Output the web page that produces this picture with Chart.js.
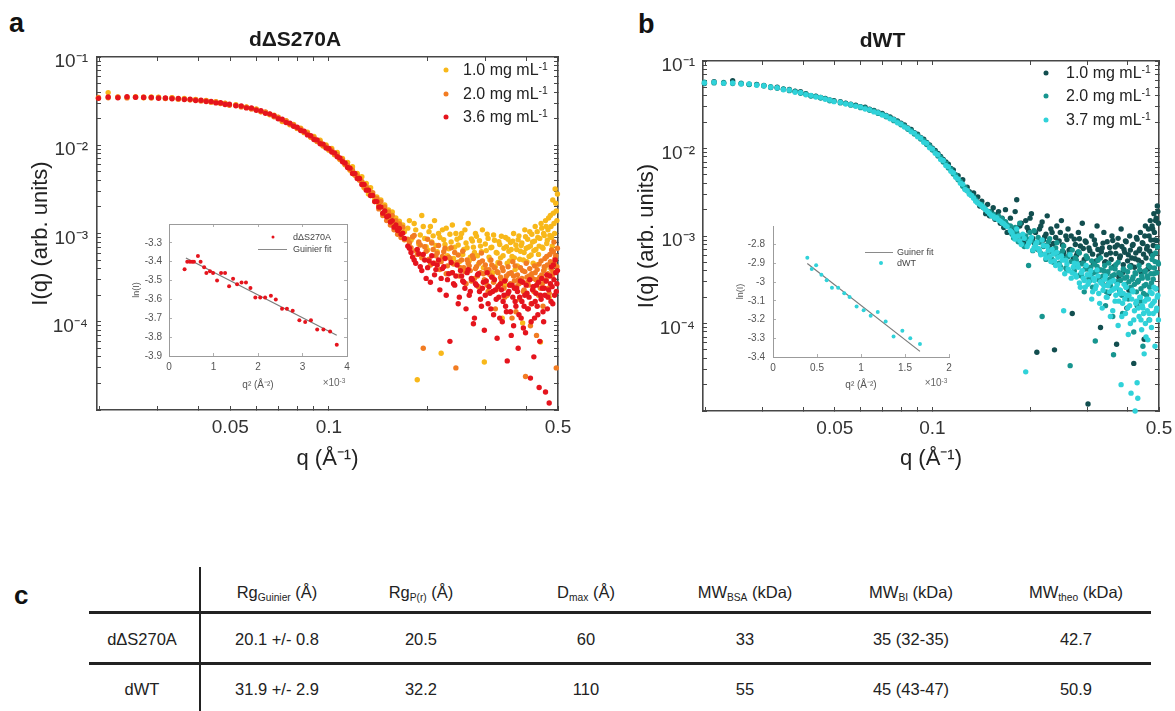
<!DOCTYPE html>
<html>
<head>
<meta charset="utf-8">
<title>SAXS curves</title>
<script src="https://cdn.jsdelivr.net/npm/chart.js@4.4.1/dist/chart.umd.min.js"></script>
<style>
  body { margin: 0; width: 1175px; height: 711px; position: relative; overflow: hidden; background: #fff;
         font-family: "Liberation Sans", Arial, sans-serif; color: #222; }
  canvas { position: absolute; }
  .t { position: absolute; white-space: nowrap; line-height: 1; }
  .c { transform: translate(-50%, -50%); }
  .l { transform: translate(0, -50%); }
  .panel { font-weight: bold; font-size: 27px; color: #111; }
  .leg { font-size: 16px; color: #222; }
  .ileg { font-size: 9px; color: #444; }
  sup { font-size: 65%; position: relative; top: -0.45em; vertical-align: baseline; }
  sub { font-size: 62%; position: relative; top: 0.3em; vertical-align: baseline; }
  .dot { position: absolute; border-radius: 50%; transform: translate(-50%, -50%); }
  .seg { position: absolute; height: 1px; background: #8a8a8a; }
  .tbl { font-size: 16.5px; color: #222; }
  .rule { position: absolute; background: #222; }
</style>
</head>
<body>

<div class="t panel" style="left:9px;top:10px">a</div>
<div class="t panel" style="left:638px;top:11px">b</div>

<canvas id="chartA" width="590" height="480" style="left:0;top:0"></canvas>
<canvas id="chartB" width="585" height="480" style="left:590px;top:0"></canvas>
<canvas id="insetA" width="240" height="185" style="left:120px;top:215px"></canvas>
<canvas id="insetB" width="250" height="185" style="left:720px;top:215px"></canvas>

<!-- legends, panel a -->
<div class="dot" style="left:446px;top:70px;width:5px;height:5px;background:#f8b81a"></div>
<div class="t l leg" style="left:463px;top:70px">1.0 mg mL<sup>-1</sup></div>
<div class="dot" style="left:446px;top:94px;width:5px;height:5px;background:#f27c22"></div>
<div class="t l leg" style="left:463px;top:94px">2.0 mg mL<sup>-1</sup></div>
<div class="dot" style="left:446px;top:117px;width:5px;height:5px;background:#e5141d"></div>
<div class="t l leg" style="left:463px;top:117px">3.6 mg mL<sup>-1</sup></div>

<!-- legends, panel b -->
<div class="dot" style="left:1046px;top:73px;width:5px;height:5px;background:#124e4f"></div>
<div class="t l leg" style="left:1066px;top:73px">1.0 mg mL<sup>-1</sup></div>
<div class="dot" style="left:1046px;top:96px;width:5px;height:5px;background:#17958f"></div>
<div class="t l leg" style="left:1066px;top:96px">2.0 mg mL<sup>-1</sup></div>
<div class="dot" style="left:1046px;top:120px;width:5px;height:5px;background:#30d2d9"></div>
<div class="t l leg" style="left:1066px;top:120px">3.7 mg mL<sup>-1</sup></div>

<!-- inset legends and exponents -->
<div class="dot" style="left:273px;top:237px;width:3px;height:3px;background:#e5141d"></div>
<div class="t l ileg" style="left:293px;top:237px">dΔS270A</div>
<div class="seg" style="left:258px;top:249px;width:29px"></div>
<div class="t l ileg" style="left:293px;top:249px">Guinier fit</div>
<div class="t c ileg" style="left:334px;top:383px;font-size:10px;color:#666">×10<sup>-3</sup></div>

<div class="seg" style="left:865px;top:252px;width:28px"></div>
<div class="t l ileg" style="left:897px;top:252px">Guiner fit</div>
<div class="dot" style="left:881px;top:263px;width:4px;height:4px;background:#30d2d9"></div>
<div class="t l ileg" style="left:897px;top:263px">dWT</div>
<div class="t c ileg" style="left:936px;top:383px;font-size:10px;color:#666">×10<sup>-3</sup></div>

<!-- table c -->
<div class="t panel" style="left:14px;top:582px;font-size:26px">c</div>
<div class="rule" style="left:199px;top:567px;width:2px;height:144px"></div>
<div class="rule" style="left:89px;top:611px;width:1062px;height:3px"></div>
<div class="rule" style="left:89px;top:662px;width:1062px;height:3px"></div>
<div id="table"></div>

<script>
// ---- main curves: scattering vector q (1/Å), shared by every series ----
const qValues = [
  0.0198,0.0212,0.0227,0.0242,0.0257,0.0272,0.0287,0.0302,0.0317,0.0332,0.0347,0.0362,0.0377,0.0392,0.0407,0.0422,0.0437,0.0452,0.0467,0.0482,0.0497,
  0.052,0.054,0.056,0.058,0.060,0.062,0.064,0.066,0.068,0.070,0.072,0.074,0.076,0.078,0.080,0.082,0.084,0.086,0.088,0.090,
  0.092,0.094,0.096,0.098,0.100,0.102,0.104,0.106,0.108,0.110,0.112,0.114,0.116,0.118,0.120,0.122,0.124,0.126,0.128,0.130,
  0.132,0.134,0.136,0.138,0.140,0.142,0.144,0.146,0.148,0.150,0.152,0.154,0.156,0.158,0.160,0.162,0.164,0.166,0.168,0.170,
  0.174,0.178,0.182,0.186,0.190,0.194,0.198,0.202,0.206,0.210,0.214,0.218,0.222,0.226,0.230,0.234,0.238,0.242,0.246,0.250,
  0.254,0.258,0.262,0.266,0.270,0.274,0.278,0.282,0.286,0.290,0.294,0.298,0.302,0.306,0.310,0.314,0.318,0.322,0.326,0.330,
  0.334,0.338,0.342,0.346,0.350,0.354,0.358,0.362,0.366,0.370,0.374,0.378,0.382,0.386,0.390,0.394,0.398,0.402,0.406,0.410,
  0.414,0.418,0.422,0.426,0.430,0.434,0.438,0.442,0.446,0.450,0.454,0.458,0.462,0.466,0.470,0.474,0.478,0.482,0.486,0.490,
  0.494,0.498
];
// in-between q bins of the noisy high-q region
const qExtra = [
  0.176,0.180,0.184,0.188,0.192,0.196,0.200,0.204,0.208,0.212,0.216,0.220,0.224,0.228,0.232,0.236,0.240,0.244,0.248,0.252,
  0.256,0.260,0.264,0.268,0.272,0.276,0.280,0.284,0.288,0.292,0.296,0.300,0.304,0.308,0.312,0.316,0.320,0.324,0.328,0.332,
  0.336,0.340,0.344,0.348,0.352,0.356,0.360,0.364,0.368,0.372,0.376,0.380,0.384,0.388,0.392,0.396,0.400,0.404,0.408,0.412,
  0.416,0.420,0.424,0.428,0.432,0.436,0.440,0.444,0.448,0.452,0.456,0.460,0.464,0.468,0.472,0.476,0.480,0.484,0.488,0.492,
  0.496
];

// panel a: dΔS270A
const a10 = [
  0.0342,0.0395,0.0351,0.0349,0.0356,0.0346,0.0352,0.0350,0.0340,0.0346,0.0335,0.0338,0.0328,0.0331,0.0320,0.0322,0.0310,0.0312,0.0299,0.0300,0.0287,
  0.0288,0.0274,0.0272,0.0260,0.0258,0.0240,0.0236,0.0222,0.0219,0.0206,0.0186,0.0190,0.0171,0.0172,0.0155,0.0156,0.0139,0.0141,0.0123,0.0126,
  0.0110,0.0114,0.0098,0.0101,0.0088,0.0092,0.0078,0.0083,0.0069,0.0071,0.0060,0.0064,0.0052,0.0057,0.0046,0.0048,0.0041,0.0044,0.0033,0.0037,
  0.0028,0.0033,0.0027,0.0024,0.0026,0.0021,0.0024,0.0017,0.0021,0.00165,0.00185,0.00140,0.00175,0.00128,0.00150,0.00112,0.00138,0.00102,0.00125,0.00105,
  1.15e-3,8.4e-4,1.3e-3,2.2e-5,9.6e-4,1.2e-3,7.1e-4,1.05e-3,8.0e-4,1.4e-3,
  6.2e-4,9.0e-4,1.1e-3,7.5e-4,5.6e-4,9.8e-4,1.25e-3,7.0e-4,8.6e-4,4.8e-4,
  1.0e-3,6.6e-4,7.8e-4,1.3e-3,5.4e-4,8.2e-4,6.1e-4,9.3e-4,4.5e-4,7.2e-4,
  1.1e-3,3.5e-5,6.4e-4,8.8e-4,5.0e-4,7.0e-4,9.6e-4,4.2e-4,6.0e-4,8.1e-4,
  5.3e-4,1.1e-4,6.8e-4,9.0e-4,4.6e-4,6.3e-4,7.9e-4,5.5e-4,1.0e-3,3.9e-4,
  6.6e-4,8.5e-4,5.1e-4,7.3e-4,9.7e-5,6.1e-4,9.2e-4,4.8e-4,7.0e-4,1.05e-3,
  5.7e-4,8.0e-4,6.4e-4,1.2e-3,4.4e-4,9.0e-4,7.2e-4,5.9e-5,1.15e-3,6.8e-4,
  9.5e-4,1.4e-3,7.7e-4,1.1e-3,1.9e-4,1.6e-3,9.0e-4,2.4e-3,1.3e-3,3.2e-3,
  1.8e-3,2.8e-3
];
const a10x = [
  1.4e-3,9.0e-4,1.1e-3,7.6e-4,1.6e-3,8.8e-4,6.5e-4,1.2e-3,9.4e-4,7.3e-4,
  1.0e-3,4.4e-5,8.5e-4,1.15e-3,6.7e-4,8.0e-4,5.2e-4,1.0e-3,7.4e-4,9.0e-4,
  5.8e-4,1.1e-3,6.9e-4,4.9e-4,8.7e-4,7.0e-4,1.0e-3,5.6e-4,8.3e-4,6.2e-4,
  4.1e-4,7.6e-4,9.8e-4,5.4e-4,6.9e-4,3.6e-4,8.4e-4,6.1e-4,4.7e-4,7.5e-4,
  9.3e-4,5.6e-4,2.6e-4,7.1e-4,8.6e-4,4.9e-4,6.6e-4,8.2e-4,5.3e-4,7.4e-4,
  4.3e-4,9.4e-4,6.3e-4,7.8e-4,5.0e-4,1.1e-3,6.8e-4,8.6e-4,5.5e-4,7.2e-4,
  9.8e-4,4.6e-4,8.2e-4,6.6e-4,1.05e-3,5.8e-4,8.8e-4,1.3e-3,7.0e-4,1.0e-3,
  4.0e-4,1.2e-3,8.4e-4,1.5e-3,9.5e-4,1.2e-3,7.2e-4,1.7e-3,1.0e-3,2.2e-3,
  1.4e-3
];
const a20 = [
  0.0348,0.0346,0.0353,0.0344,0.0351,0.0352,0.0343,0.0347,0.0338,0.0344,0.0333,0.0335,0.0327,0.0328,0.0318,0.0320,0.0308,0.0309,0.0297,0.0298,0.0284,
  0.0285,0.0272,0.0270,0.0258,0.0255,0.0241,0.0238,0.0225,0.0210,0.0208,0.0191,0.0188,0.0173,0.0170,0.0156,0.0153,0.0140,0.0137,0.0124,0.0122,
  0.0111,0.0109,0.0099,0.0098,0.0089,0.0088,0.0079,0.0078,0.0070,0.0068,0.0061,0.0059,0.0053,0.0052,0.0046,0.0045,0.0040,0.0039,0.0034,0.0034,
  0.0031,0.0027,0.0029,0.0023,0.0025,0.0019,0.0023,0.0016,0.0020,0.00140,0.00175,0.00125,0.00160,0.00110,0.00140,0.00098,0.00128,0.00090,0.00118,0.00085,
  8.6e-4,6.9e-4,9.5e-4,5.8e-4,7.4e-4,5.0e-5,6.3e-4,5.1e-4,7.8e-4,4.6e-4,
  6.0e-4,3.9e-4,5.5e-4,6.8e-4,4.3e-4,5.2e-4,3.6e-4,6.1e-4,4.7e-4,3.3e-4,
  5.0e-4,4.1e-4,2.7e-4,4.6e-4,3.8e-4,5.6e-4,3.1e-4,4.2e-4,2.5e-4,3.6e-4,
  4.9e-4,3.0e-4,3.9e-4,2.2e-4,3.4e-4,4.4e-4,2.8e-4,1.4e-4,3.7e-4,2.6e-4,
  3.2e-4,4.1e-4,2.4e-4,3.0e-4,2.0e-4,3.5e-4,2.7e-4,1.1e-4,3.3e-4,4.3e-4,
  2.5e-4,3.0e-4,1.8e-4,2.9e-4,3.8e-4,2.3e-4,2.4e-5,3.2e-4,2.6e-4,4.0e-4,
  1.6e-4,3.1e-4,2.2e-4,3.6e-4,7.0e-5,2.8e-4,4.5e-4,2.4e-4,3.4e-4,1.5e-4,
  4.2e-4,2.9e-4,5.5e-4,3.5e-4,2.1e-4,4.8e-4,6.5e-4,3.7e-4,8.0e-4,5.2e-4,
  3.0e-5,6.8e-4
];
const a20x = [
  7.8e-4,9.2e-4,6.4e-4,8.0e-4,5.3e-4,7.1e-4,8.6e-4,4.4e-4,6.6e-4,5.6e-4,
  7.3e-4,4.8e-4,6.2e-4,3.5e-4,5.4e-4,6.9e-4,4.5e-4,3.0e-5,5.7e-4,4.1e-4,
  6.3e-4,3.7e-4,5.0e-4,4.3e-4,2.9e-4,5.2e-4,4.0e-4,3.3e-4,4.7e-4,6.0e-4,
  3.5e-4,4.4e-4,2.6e-4,3.9e-4,5.0e-4,3.2e-4,4.1e-4,2.3e-4,3.6e-4,4.6e-4,
  3.0e-4,3.8e-4,1.9e-4,3.3e-4,4.2e-4,2.6e-4,3.6e-4,4.8e-4,2.9e-4,1.3e-4,
  3.4e-4,2.7e-4,4.1e-4,3.1e-4,2.2e-4,3.7e-4,4.6e-4,2.8e-4,3.3e-4,9.0e-5,
  3.5e-4,2.5e-4,4.3e-4,3.0e-4,3.9e-4,2.0e-4,3.2e-4,4.9e-4,2.7e-4,3.8e-4,
  5.2e-4,3.0e-4,4.4e-4,2.4e-4,5.8e-4,4.0e-4,3.3e-4,6.2e-4,4.5e-4,5.6e-4,
  4.2e-4
];
const a36 = [
  0.0340,0.0352,0.0346,0.0355,0.0350,0.0348,0.0349,0.0341,0.0343,0.0337,0.0338,0.0330,0.0332,0.0322,0.0324,0.0313,0.0314,0.0302,0.0303,0.0290,0.0291,
  0.0280,0.0279,0.0265,0.0264,0.0249,0.0246,0.0230,0.0227,0.0216,0.0200,0.0197,0.0181,0.0178,0.0164,0.0160,0.0147,0.0144,0.0131,0.0128,0.0116,
  0.0115,0.0104,0.0103,0.0093,0.0092,0.0084,0.0082,0.0074,0.0072,0.0065,0.0063,0.0056,0.0055,0.0048,0.0048,0.0042,0.0042,0.0036,0.0036,0.0031,
  0.0031,0.0027,0.0027,0.0023,0.0023,0.0020,0.0020,0.0017,0.0018,0.00155,0.00158,0.00135,0.00140,0.00118,0.00125,0.00108,0.00114,0.00098,0.00101,0.00088,
  7.2e-4,6.1e-4,5.0e-4,6.6e-4,4.2e-4,5.8e-4,3.1e-4,4.9e-4,5.6e-4,3.4e-4,
  4.4e-4,2.3e-4,4.0e-4,5.2e-4,3.0e-4,6.0e-5,3.6e-4,2.6e-4,4.4e-4,1.9e-4,
  3.3e-4,2.8e-4,1.4e-4,3.9e-4,2.2e-4,3.0e-4,1.1e-4,2.6e-4,3.5e-4,1.8e-4,
  2.4e-4,8.0e-5,2.9e-4,1.6e-4,2.1e-4,3.2e-4,1.2e-4,2.3e-4,6.5e-5,1.9e-4,
  2.7e-4,1.0e-4,2.0e-4,1.5e-4,3.6e-5,2.2e-4,1.3e-4,2.6e-4,9.0e-5,1.7e-4,
  2.4e-4,5.0e-5,1.9e-4,1.1e-4,2.8e-4,1.5e-4,7.5e-5,2.1e-4,1.4e-4,3.0e-4,
  1.0e-4,2.3e-4,4.0e-5,1.7e-4,2.6e-4,1.2e-4,1.8e-5,2.0e-4,3.1e-4,1.3e-4,
  2.4e-4,1.6e-5,3.4e-4,1.9e-4,1.2e-5,2.7e-4,4.2e-4,1.6e-4,3.0e-4,5.0e-4,
  2.2e-4,3.8e-4
];
const a36x = [
  6.8e-4,5.4e-4,4.6e-4,5.9e-4,3.8e-4,5.0e-4,4.1e-4,2.8e-4,4.6e-4,3.9e-4,
  5.0e-4,3.1e-4,4.2e-4,2.0e-4,3.5e-4,4.7e-4,2.7e-4,3.3e-4,1.6e-4,3.8e-4,
  2.9e-4,2.4e-4,3.6e-4,2.0e-4,3.1e-4,9.5e-5,2.7e-4,3.4e-4,2.2e-4,1.5e-4,
  2.8e-4,2.0e-4,3.6e-4,2.5e-4,1.4e-4,2.2e-4,3.0e-4,1.8e-4,2.5e-4,1.1e-4,
  2.3e-4,1.7e-4,2.9e-4,1.3e-4,2.1e-4,2.6e-4,7.0e-5,1.9e-4,2.4e-4,1.5e-4,
  2.2e-4,1.2e-4,2.9e-4,1.7e-4,8.5e-5,2.0e-4,2.6e-4,1.4e-4,1.9e-4,2.3e-5,
  1.6e-4,2.5e-4,1.1e-4,2.1e-4,1.5e-4,2.8e-4,6.0e-5,1.8e-4,2.4e-4,1.0e-4,
  2.0e-4,2.9e-4,1.4e-4,2.3e-4,3.3e-4,1.7e-4,2.5e-4,4.4e-4,2.0e-4,3.6e-4,
  2.7e-4
];

// panel b: dWT
const b10 = [
  0.0552,0.0580,0.0558,0.0596,0.0551,0.0542,0.0540,0.0526,0.0498,0.0501,0.0475,0.0472,0.0452,0.0445,0.0423,0.0402,0.0396,0.0382,0.0374,0.0358,0.0352,
  0.0342,0.0330,0.0320,0.0312,0.0300,0.0296,0.0281,0.0272,0.0260,0.0252,0.0238,0.0230,0.0216,0.0207,0.0194,0.0186,0.0172,0.0165,0.0152,0.0146,
  0.0134,0.0128,0.0117,0.0110,0.0101,0.0095,0.0088,0.0081,0.0075,0.0070,0.0066,0.0059,0.0057,0.0050,0.0049,0.0043,0.0044,0.0035,0.0036,0.0032,
  0.0030,0.0031,0.0026,0.0028,0.0022,0.0025,0.0021,0.0018,0.0023,0.0017,0.0019,0.0021,0.00155,0.00175,0.00190,0.00140,0.00160,0.00125,0.00200,0.00110,
  1.6e-3,1.1e-3,2.6e-3,1.3e-3,9.0e-4,1.5e-3,1.15e-3,1.8e-3,8.4e-4,4.7e-5,
  1.2e-3,1.45e-3,9.8e-4,1.7e-3,7.6e-4,1.1e-3,5.0e-5,1.3e-3,8.8e-4,1.5e-3,
  6.5e-4,1.0e-3,1.2e-3,7.0e-4,1.3e-4,9.2e-4,6.0e-4,1.1e-3,7.7e-4,1.4e-3,
  5.4e-4,8.5e-4,1.2e-5,6.8e-4,1.0e-3,4.8e-4,8.0e-4,1.3e-3,5.9e-4,9.0e-5,
  7.3e-4,1.1e-3,5.1e-4,8.6e-4,2.2e-4,6.4e-4,1.0e-3,4.4e-4,7.5e-4,5.8e-5,
  9.4e-4,5.6e-4,1.2e-3,3.8e-4,7.0e-4,8.8e-4,1.5e-4,6.1e-4,1.0e-3,4.6e-4,
  7.8e-4,3.5e-5,5.5e-4,9.6e-4,3.0e-4,6.8e-4,1.1e-3,5.0e-4,8.2e-4,6.6e-5,
  1.3e-3,7.1e-4,4.2e-4,1.0e-3,1.5e-3,6.2e-4,1.2e-3,1.8e-3,9.0e-4,1.6e-3,
  2.2e-3,1.4e-3
];
const b10x = [
  1.2e-3,1.9e-3,1.0e-3,1.4e-3,8.2e-4,1.25e-3,1.6e-3,9.4e-4,1.1e-3,7.0e-4,
  1.3e-3,9.0e-4,1.05e-3,6.8e-4,1.2e-3,8.2e-4,9.6e-4,6.1e-4,1.1e-3,7.9e-4,
  5.8e-4,9.1e-4,6.9e-4,1.0e-3,5.5e-4,8.0e-4,6.4e-4,9.3e-4,4.9e-4,7.2e-4,
  8.8e-4,5.6e-4,7.3e-4,3.5e-4,6.2e-4,9.0e-4,5.2e-4,7.0e-4,4.1e-4,6.6e-4,
  8.3e-4,5.0e-4,6.1e-4,2.8e-4,7.4e-4,5.4e-4,8.9e-4,4.5e-4,6.3e-4,7.9e-4,
  3.4e-4,5.9e-4,7.6e-4,4.7e-4,6.5e-4,8.6e-4,5.2e-4,2.4e-4,6.9e-4,5.6e-4,
  8.0e-4,4.4e-4,6.4e-4,9.2e-4,5.3e-4,7.1e-4,3.9e-4,8.4e-4,6.2e-4,1.0e-3,
  5.6e-4,7.6e-4,1.2e-3,6.7e-4,9.0e-4,1.3e-3,7.8e-4,1.1e-3,1.5e-3,8.9e-4,
  1.9e-3
];
const b20 = [
  0.0574,0.0562,0.0568,0.0553,0.0556,0.0539,0.0535,0.0517,0.0509,0.0487,0.0480,0.0458,0.0450,0.0428,0.0420,0.0398,0.0394,0.0378,0.0372,0.0352,0.0348,
  0.0332,0.0328,0.0313,0.0309,0.0293,0.0290,0.0273,0.0268,0.0252,0.0247,0.0230,0.0225,0.0208,0.0203,0.0187,0.0181,0.0166,0.0160,0.0146,0.0142,
  0.0128,0.0124,0.0111,0.0108,0.0096,0.0092,0.0082,0.0079,0.0070,0.0068,0.0060,0.0058,0.0051,0.0050,0.0044,0.0042,0.0037,0.0036,0.0033,0.0031,
  0.0029,0.0028,0.0026,0.0024,0.0023,0.0023,0.0021,0.0020,0.0019,0.0019,0.00170,0.00178,0.00165,0.00160,0.00168,0.00150,0.00158,0.00140,0.00146,0.00135,
  1.3e-3,9.5e-4,1.1e-3,1.4e-3,8.0e-4,1.0e-3,4.6e-4,8.8e-4,1.15e-3,7.2e-4,
  8.5e-4,1.2e-4,7.8e-4,6.0e-4,9.3e-4,5.4e-4,7.1e-4,8.4e-4,4.9e-4,6.4e-4,
  7.7e-4,4.3e-4,5.8e-4,3.3e-5,6.9e-4,4.0e-4,5.3e-4,6.6e-4,3.6e-4,4.8e-4,
  2.3e-4,5.9e-4,4.2e-4,3.1e-4,5.2e-4,3.8e-4,6.3e-5,4.5e-4,3.4e-4,5.6e-4,
  2.9e-4,4.0e-4,1.6e-4,3.7e-4,4.9e-4,2.7e-4,3.5e-4,4.4e-5,4.2e-4,3.0e-4,
  5.0e-4,2.4e-4,3.6e-4,1.3e-4,4.1e-4,2.8e-4,3.4e-4,1.9e-4,4.5e-4,2.6e-4,
  3.2e-4,8.0e-5,3.8e-4,2.3e-4,3.0e-4,4.6e-4,1.8e-4,3.5e-4,5.5e-5,2.7e-4,
  4.0e-4,2.1e-4,3.3e-4,1.1e-4,4.4e-4,2.9e-4,6.0e-4,3.7e-4,5.1e-4,2.5e-4,
  7.5e-4,4.8e-4
];
const b20x = [
  1.05e-3,1.25e-3,8.6e-4,1.0e-3,7.6e-4,9.2e-4,1.1e-3,6.8e-4,8.2e-4,9.6e-4,
  6.3e-4,7.6e-4,5.4e-4,8.6e-4,6.7e-4,5.0e-4,7.3e-4,6.0e-4,4.5e-4,6.8e-4,
  5.5e-4,4.1e-4,6.2e-4,5.1e-4,3.8e-4,5.6e-4,4.6e-4,6.4e-4,3.5e-4,4.9e-4,
  4.2e-4,5.6e-4,3.3e-4,4.4e-4,2.6e-4,4.8e-4,3.9e-4,5.3e-4,3.1e-4,4.1e-4,
  3.5e-4,4.6e-4,2.3e-4,3.9e-4,3.2e-4,4.3e-4,1.2e-4,3.6e-4,4.7e-4,2.9e-4,
  3.8e-4,3.1e-4,2.1e-4,4.2e-4,3.3e-4,2.6e-4,3.9e-4,3.0e-4,4.4e-4,2.4e-4,
  3.4e-4,2.8e-4,3.7e-4,1.6e-4,3.1e-4,4.1e-4,2.5e-4,3.3e-4,2.2e-4,3.9e-4,
  2.8e-4,3.5e-4,4.6e-4,2.6e-4,3.7e-4,5.4e-4,3.2e-4,4.3e-4,6.4e-4,3.8e-4,
  5.0e-4
];
const b37 = [
  0.0560,0.0572,0.0555,0.0561,0.0546,0.0548,0.0529,0.0523,0.0502,0.0494,0.0470,0.0466,0.0440,0.0436,0.0412,0.0405,0.0388,0.0384,0.0366,0.0359,0.0343,
  0.0338,0.0322,0.0318,0.0303,0.0299,0.0283,0.0278,0.0262,0.0257,0.0241,0.0235,0.0219,0.0213,0.0197,0.0191,0.0176,0.0170,0.0155,0.0150,0.0136,
  0.0132,0.0118,0.0115,0.0102,0.0099,0.0088,0.0085,0.0075,0.0073,0.0064,0.0062,0.0055,0.0053,0.0047,0.0045,0.0040,0.0039,0.0034,0.0033,0.0030,
  0.0029,0.0027,0.0025,0.0024,0.0023,0.0022,0.0021,0.0020,0.0019,0.0018,0.00172,0.00168,0.00160,0.00162,0.00152,0.00148,0.00142,0.00138,0.00132,0.00128,
  1.15e-3,1.0e-3,1.2e-3,8.8e-4,1.05e-3,2.8e-5,8.2e-4,9.6e-4,7.4e-4,8.5e-4,
  6.8e-4,9.0e-4,6.2e-4,7.6e-4,5.8e-4,7.0e-4,5.2e-4,6.5e-4,4.7e-4,5.9e-4,
  1.4e-4,5.3e-4,4.2e-4,6.1e-4,3.8e-4,4.9e-4,3.4e-4,4.4e-4,2.6e-4,4.0e-4,
  3.1e-4,4.6e-4,2.8e-4,3.6e-4,1.9e-4,3.3e-4,2.5e-4,4.1e-4,2.2e-4,3.0e-4,
  1.5e-4,2.7e-4,3.5e-4,2.0e-4,2.9e-4,1.2e-4,2.4e-4,3.1e-4,1.8e-4,2.6e-4,
  9.5e-5,2.2e-4,2.0e-5,1.7e-4,2.8e-4,1.3e-4,2.1e-4,7.5e-5,1.6e-4,1.6e-5,
  2.4e-4,1.1e-4,1.0e-5,1.8e-4,1.4e-5,1.2e-4,2.0e-4,8.5e-5,1.5e-4,4.5e-5,
  1.0e-4,1.9e-4,6.5e-5,1.3e-4,2.3e-4,9.0e-5,1.7e-4,2.6e-4,5.5e-5,1.4e-4,
  2.0e-4,1.1e-4
];
const b37x = [
  1.1e-3,9.2e-4,1.0e-3,8.0e-4,9.4e-4,7.6e-4,8.8e-4,6.9e-4,8.0e-4,7.2e-4,
  6.1e-4,7.8e-4,5.6e-4,6.8e-4,5.1e-4,6.2e-4,4.6e-4,5.7e-4,4.2e-4,5.3e-4,
  3.7e-4,4.8e-4,4.0e-4,3.3e-4,4.4e-4,3.6e-4,4.8e-4,2.9e-4,3.8e-4,3.3e-4,
  2.6e-4,3.6e-4,3.0e-4,4.0e-4,2.3e-4,3.1e-4,2.7e-4,3.5e-4,1.7e-4,2.9e-4,
  2.4e-4,3.2e-4,2.0e-4,2.7e-4,2.3e-4,3.0e-4,1.4e-4,2.5e-4,2.1e-4,2.8e-4,
  1.8e-4,2.4e-4,1.2e-4,2.2e-4,1.9e-4,2.6e-4,1.5e-4,2.1e-4,1.0e-4,1.9e-4,
  2.3e-4,1.4e-4,1.7e-4,2.1e-5,1.5e-4,2.0e-4,1.1e-4,1.6e-4,1.3e-4,1.8e-4,
  7.0e-5,1.4e-4,1.9e-4,1.1e-4,1.6e-4,2.2e-4,1.3e-4,1.8e-4,2.5e-4,1.5e-4,
  2.1e-4
];

// ---- Guinier insets (q² in units of 1e-3 Å⁻²) ----
const insetAQ2 = [0.35,0.41,0.47,0.52,0.56,0.65,0.71,0.79,0.84,0.92,0.99,1.08,1.17,1.26,1.35,1.44,1.53,1.63,1.73,1.83,
                  1.94,2.05,2.16,2.29,2.40,2.54,2.65,2.78,2.93,3.06,3.19,3.33,3.47,3.62,3.77];
const insetALnI = [-3.44,-3.40,-3.40,-3.40,-3.40,-3.37,-3.40,-3.43,-3.46,-3.45,-3.46,-3.50,-3.46,-3.46,-3.53,-3.49,-3.52,-3.51,-3.51,-3.54,
                   -3.59,-3.59,-3.59,-3.58,-3.60,-3.65,-3.65,-3.66,-3.71,-3.72,-3.71,-3.76,-3.76,-3.77,-3.84];
const fitAQ2 = [0.38, 3.77];
const fitALnI = [-3.38, -3.79];

const insetBQ2 = [0.39,0.44,0.49,0.55,0.61,0.67,0.74,0.81,0.87,0.95,1.03,1.11,1.19,1.28,1.37,1.47,1.56,1.67];
const insetBLnI = [-2.87,-2.93,-2.91,-2.96,-2.99,-3.03,-3.03,-3.06,-3.08,-3.13,-3.15,-3.18,-3.16,-3.21,-3.29,-3.26,-3.30,-3.33];
const fitBQ2 = [0.39, 1.67];
const fitBLnI = [-2.90, -3.37];

// ---- axis ticks ----
const qMin = 0.0196, qMax = 0.5;
const qTicks = [0.02,0.03,0.04,0.05,0.06,0.07,0.08,0.09,0.1,0.2,0.3,0.4,0.5];
const qTickLabels = [[0.05,'0.05'],[0.1,'0.1'],[0.5,'0.5']];
const iMantissas = [1,2,3,4,5,6,7,8,9];
const iDecades = [-5,-4,-3,-2];
const iTickLabels = [[1e-1,'10⁻¹'],[1e-2,'10⁻²'],[1e-3,'10⁻³'],[1e-4,'10⁻⁴']];
const iTicks = iDecades.flatMap(e => iMantissas.map(m => m * Math.pow(10, e))).concat([0.1]);

// ---- table ----
const tableCols = [142, 277, 421, 586, 745, 911, 1076];
const tableHead = ['', 'Rg<sub>Guinier</sub> (Å)', 'Rg<sub>P(r)</sub> (Å)', 'D<sub>max</sub> (Å)',
                   'MW<sub>BSA</sub> (kDa)', 'MW<sub>BI</sub> (kDa)', 'MW<sub>theo</sub> (kDa)'];
const tableRow1 = ['dΔS270A', '20.1 +/- 0.8', '20.5', '60', '33', '35 (32-35)', '42.7'];
const tableRow2 = ['dWT', '31.9 +/- 2.9', '32.2', '110', '55', '45 (43-47)', '50.9'];

Chart.defaults.font.family = '"Liberation Sans", Arial, sans-serif';
const axisColor = '#474747';

const findLabel = (list, v) => {
  const hit = list.find(([t]) => Math.abs(Math.log10(v / t)) < 1e-6);
  return hit ? hit[1] : '';
};

function logAxis(pos, min, max, ticks, labels, size, pad, title, offset) {
  const horiz = pos === 'top' || pos === 'bottom';
  return {
    type: 'logarithmic', position: pos, min: min, max: max, bounds: 'data',
    afterBuildTicks: s => { s.ticks = ticks.map(v => ({ value: v })); },
    afterFit: s => {
      if (horiz) s.height = size; else s.width = size;
      s.paddingLeft = s.paddingRight = s.paddingTop = s.paddingBottom = 0;
    },
    ticks: {
      display: !!labels, autoSkip: false, maxRotation: 0, minRotation: 0, padding: pad,
      labelOffset: offset || 0, color: '#333', font: { size: 19 },
      callback: v => labels ? findLabel(labels, v) : ''
    },
    grid: { drawOnChartArea: false, drawTicks: true, tickLength: -4, color: axisColor, tickWidth: 1 },
    border: { display: true, color: axisColor, width: 1.6 },
    title: title || { display: false }
  };
}

function mainChart(id, o) {
  return new Chart(document.getElementById(id), {
    type: 'scatter',
    data: {
      datasets: o.series.map(s => ({
        label: s.label,
        data: qValues.map((q, i) => ({ x: q, y: s.values[i] }))
          .concat(qExtra.map((q, i) => ({ x: q, y: s.extra[i] }))),
        backgroundColor: s.color, borderWidth: 0, pointRadius: 2.7, order: s.order, clip: 4
      }))
    },
    options: {
      responsive: false, animation: false, events: [], devicePixelRatio: 1,
      layout: { padding: 0 },
      plugins: {
        legend: { display: false }, tooltip: { enabled: false },
        title: { display: true, text: o.title, color: '#1a1a1a', font: { size: 21, weight: 'bold' },
                 padding: { top: o.titlePad, bottom: 0 } }
      },
      scales: {
        x: logAxis('bottom', qMin, qMax, qTicks, qTickLabels, o.bottomH, 10,
          { display: true, text: 'q (Å⁻¹)', color: '#222', font: { size: 22 }, padding: { top: 0, bottom: 8 } }),
        x2: logAxis('top', qMin, qMax, qTicks, null, o.topH, 0),
        y: logAxis('left', 1e-5, 0.1, iTicks, iTickLabels, o.leftW, o.yPad,
          { display: true, text: 'I(q) (arb. units)', color: '#222', font: { size: 22 }, padding: { top: o.yTitlePad, bottom: 0 } }, 5),
        y2: logAxis('right', 1e-5, 0.1, iTicks, null, o.rightW, 0)
      }
    }
  });
}

mainChart('chartA', {
  title: 'dΔS270A', titlePad: 28, topH: 3.8, bottomH: 70, leftW: 97, rightW: 32, yPad: 13, yTitlePad: 28,
  series: [
    { label: '1.0 mg mL-1', values: a10, extra: a10x, color: '#f8b81a', order: 3 },
    { label: '2.0 mg mL-1', values: a20, extra: a20x, color: '#f27c22', order: 2 },
    { label: '3.6 mg mL-1', values: a36, extra: a36x, color: '#e5141d', order: 1 }
  ]
});
mainChart('chartB', {
  title: 'dWT', titlePad: 29, topH: 6.8, bottomH: 69, leftW: 113, rightW: 16, yPad: 12, yTitlePad: 44,
  series: [
    { label: '1.0 mg mL-1', values: b10, extra: b10x, color: '#124e4f', order: 3 },
    { label: '2.0 mg mL-1', values: b20, extra: b20x, color: '#17958f', order: 2 },
    { label: '3.7 mg mL-1', values: b37, extra: b37x, color: '#30d2d9', order: 1 }
  ]
});

// ---- insets ----
const insetColor = '#9b9b9b';
function linAxis(pos, min, max, ticks, size, pad, title, show) {
  const horiz = pos === 'top' || pos === 'bottom';
  return {
    type: 'linear', position: pos, min: min, max: max, bounds: 'data',
    afterBuildTicks: s => { s.ticks = ticks.map(v => ({ value: v })); },
    afterFit: s => {
      if (horiz) s.height = size; else s.width = size;
      s.paddingLeft = s.paddingRight = s.paddingTop = s.paddingBottom = 0;
    },
    ticks: {
      display: show, autoSkip: false, maxRotation: 0, minRotation: 0, padding: pad,
      color: '#555', font: { size: 10 },
      callback: v => String(Math.round(v * 10) / 10)
    },
    grid: { drawOnChartArea: false, drawTicks: true, tickLength: -3, color: insetColor, tickWidth: 0.8 },
    border: { display: true, color: insetColor, width: 1 },
    title: title || { display: false }
  };
}

function insetChart(id, o) {
  const scales = {
    x: linAxis('bottom', o.xMin, o.xMax, o.xTicks, o.bottomH, 8,
      { display: true, text: 'q² (Å⁻²)', color: '#555', font: { size: 10 }, padding: { top: 0, bottom: 9 } }, true),
    y: linAxis('left', o.yMin, o.yMax, o.yTicks, o.leftW, o.yPad,
      { display: true, text: 'ln(I)', color: '#555', font: { size: 9 }, padding: { top: o.yTitlePad, bottom: 0 } }, true)
  };
  if (o.box) {
    scales.x2 = linAxis('top', o.xMin, o.xMax, o.xTicks, o.topH, 0, null, false);
    scales.y2 = linAxis('right', o.yMin, o.yMax, o.yTicks, o.rightW, 0, null, false);
  }
  return new Chart(document.getElementById(id), {
    type: 'scatter',
    data: {
      datasets: [
        { label: o.label, data: o.q2.map((v, i) => ({ x: v, y: o.lnI[i] })),
          backgroundColor: o.color, borderWidth: 0, pointRadius: 2, clip: 3 },
        { label: o.fitLabel, data: o.fitQ2.map((v, i) => ({ x: v, y: o.fitLnI[i] })),
          showLine: true, borderColor: '#7a7a7a', borderWidth: 1.2, pointRadius: 0 }
      ]
    },
    options: {
      responsive: false, animation: false, events: [], devicePixelRatio: 1,
      layout: { padding: o.padding },
      plugins: { legend: { display: false }, tooltip: { enabled: false } },
      scales: scales
    }
  });
}

insetChart('insetA', {
  q2: insetAQ2, lnI: insetALnI, fitQ2: fitAQ2, fitLnI: fitALnI, color: '#e5141d',
  label: 'dΔS270A', fitLabel: 'Guinier fit', box: true,
  xMin: 0, xMax: 4, xTicks: [0, 1, 2, 3, 4],
  yMin: -3.9, yMax: -3.2, yTicks: [-3.9, -3.8, -3.7, -3.6, -3.5, -3.4, -3.3],
  bottomH: 44, topH: 9, leftW: 49, rightW: 13, yPad: 10, yTitlePad: 11, padding: 0
});
insetChart('insetB', {
  q2: insetBQ2, lnI: insetBLnI, fitQ2: fitBQ2, fitLnI: fitBLnI, color: '#30d2d9',
  label: 'dWT', fitLabel: 'Guiner fit', box: false,
  xMin: 0, xMax: 2, xTicks: [0, 0.5, 1, 1.5, 2],
  yMin: -3.4, yMax: -2.7, yTicks: [-3.4, -3.3, -3.2, -3.1, -3.0, -2.9, -2.8],
  bottomH: 43, leftW: 53, yPad: 11, yTitlePad: 15, padding: { top: 11, right: 21, left: 0, bottom: 0 }
});

// ---- table c ----
const tbl = document.getElementById('table');
[[tableHead, 592], [tableRow1, 639], [tableRow2, 689]].forEach(([row, y]) => {
  row.forEach((txt, i) => {
    if (!txt) return;
    const d = document.createElement('div');
    d.className = 't c tbl';
    d.style.left = tableCols[i] + 'px';
    d.style.top = y + 'px';
    d.innerHTML = txt;
    tbl.appendChild(d);
  });
});
</script>
</body>
</html>
